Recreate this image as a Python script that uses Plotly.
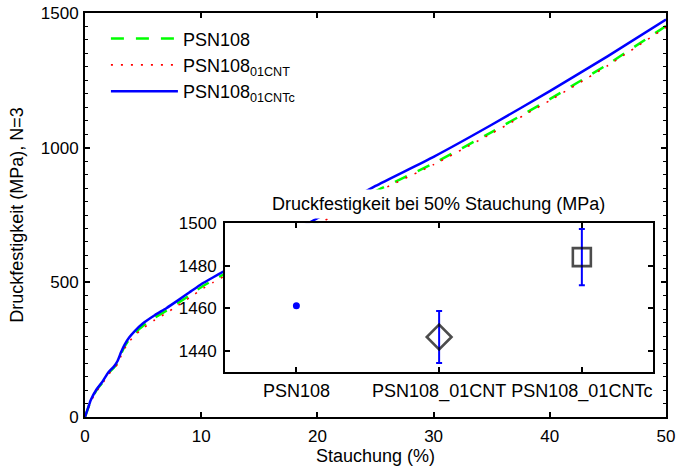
import plotly.graph_objects as go

# Stress-strain curves (mean of N=3 specimens)
strain = [0, 0.25, 0.5, 1.0, 1.5, 2.0, 2.5, 2.8, 3.1, 3.4, 3.8, 4.3, 5, 6, 7, 8, 9,
          10, 11, 12, 14, 16, 18, 20, 22, 25, 30, 35, 40, 45, 50]
psn108 = [0, 31, 61, 100, 128, 162, 184, 203, 234, 261, 288, 312, 339, 369, 395,
          423, 452, 482, 507, 531, 580, 628, 675, 722, 768, 838, 942, 1058, 1180,
          1310, 1452]
psn108_01cnt = [0, 29, 58, 96, 124, 157, 179, 197, 227, 254, 280, 304, 330, 360,
                386, 414, 443, 473, 499, 523, 572, 620, 667, 715, 762, 833, 937,
                1053, 1175, 1305, 1447]
psn108_01cntc = [0, 32, 63, 103, 131, 165, 188, 208, 240, 268, 295, 320, 348, 378,
                 404, 433, 463, 493, 518, 542, 592, 642, 690, 738, 785, 858, 966,
                 1085, 1210, 1340, 1476]

# Compressive strength at 50 % strain
groups = ["PSN108", "PSN108_01CNT", "PSN108_01CNTc"]
strength50 = [1461.2, 1446.5, 1484.0]
strength50_err = [0.0, 12.2, 13.2]

FONT = "Liberation Sans, Arial, sans-serif"

fig = go.Figure()

fig.add_trace(go.Scatter(
    x=strain, y=psn108, mode="lines", name="PSN108",
    line=dict(color="#00ff00", width=2.5, dash="13px,12px", shape="spline", smoothing=0.5),
))
fig.add_trace(go.Scatter(
    x=strain, y=psn108_01cnt, mode="lines", name="PSN108<sub>01CNT</sub>",
    line=dict(color="#ff0000", width=1.6, dash="2px,8px", shape="spline", smoothing=0.5),
))
fig.add_trace(go.Scatter(
    x=strain, y=psn108_01cntc, mode="lines", name="PSN108<sub>01CNTc</sub>",
    line=dict(color="#0000ff", width=2.5, shape="spline", smoothing=0.5),
))

# Inset: strength at 50 % strain
xpos = [1, 2, 3]
fig.add_trace(go.Scatter(
    x=xpos[:1], y=strength50[:1], mode="markers", xaxis="x2", yaxis="y2",
    showlegend=False,
    marker=dict(symbol="circle", size=7, color="#0000ff", line=dict(width=0)),
))
fig.add_trace(go.Scatter(
    x=xpos[1:], y=strength50[1:], mode="markers", xaxis="x2", yaxis="y2",
    showlegend=False,
    error_y=dict(type="data", array=strength50_err[1:], color="#0000ff",
                 thickness=2, width=3),
    marker=dict(symbol=["diamond-open", "square-open"], size=[19, 18],
                color="black", line=dict(width=2.6, color="black")),
))

tickfont = dict(family=FONT, size=17, color="black")

fig.update_layout(
    width=676, height=470,
    margin=dict(l=85, r=10, t=13, b=53),
    paper_bgcolor="white", plot_bgcolor="white",
    font=dict(family=FONT, size=17, color="black"),
    showlegend=True,
    legend=dict(x=0.036, y=0.982, xanchor="left", yanchor="top",
                bgcolor="rgba(0,0,0,0)", borderwidth=0, itemwidth=67,
                font=dict(family=FONT, size=18, color="black"),
                tracegroupgap=0),
    xaxis=dict(
        range=[0, 50], dtick=10, showgrid=False, zeroline=False, automargin=False,
        showline=True, linewidth=2, linecolor="black", mirror="ticks",
        ticks="inside", ticklen=5, tickwidth=1.5, tickcolor="black",
        tickfont=tickfont, ticklabelstandoff=3,
        title=dict(text="Stauchung (%)", font=dict(family=FONT, size=18), standoff=3),
    ),
    yaxis=dict(
        range=[0, 1500], dtick=500, showgrid=False, zeroline=False, automargin=False,
        showline=True, linewidth=2, linecolor="black", mirror="ticks",
        ticks="inside", ticklen=5, tickwidth=1.5, tickcolor="black",
        minor=dict(dtick=50, ticks="inside", ticklen=3, tickwidth=1, tickcolor="black"),
        tickfont=tickfont, ticklabelstandoff=1,
        title=dict(text="Druckfestigkeit (MPa), N=3", font=dict(family=FONT, size=18),
                   standoff=12),
    ),
    xaxis2=dict(
        domain=[0.241, 0.978], anchor="y2", range=[0.5, 3.5], automargin=False,
        tickvals=xpos, ticktext=groups, showgrid=False, zeroline=False,
        showline=True, linewidth=2, linecolor="black", mirror="ticks",
        ticks="inside", ticklen=5, tickwidth=1.5, tickcolor="black",
        tickfont=dict(family=FONT, size=18, color="black"), ticklabelstandoff=1,
    ),
    yaxis2=dict(
        domain=[0.111, 0.480], anchor="x2", range=[1430, 1500], automargin=False,
        tickvals=[1440, 1460, 1480, 1500], showgrid=False, zeroline=False,
        showline=True, linewidth=2, linecolor="black", mirror="ticks",
        ticks="inside", ticklen=5, tickwidth=1.5, tickcolor="black",
        tickfont=tickfont, ticklabelstandoff=3,
    ),
    annotations=[dict(
        text="Druckfestigkeit bei 50% Stauchung (MPa)",
        xref="paper", yref="paper", x=0.609, y=0.527,
        xanchor="center", yanchor="middle", showarrow=False,
        bgcolor="white", borderpad=4,
        font=dict(family=FONT, size=18, color="black"),
    )],
)

fig.write_html("out.html")
